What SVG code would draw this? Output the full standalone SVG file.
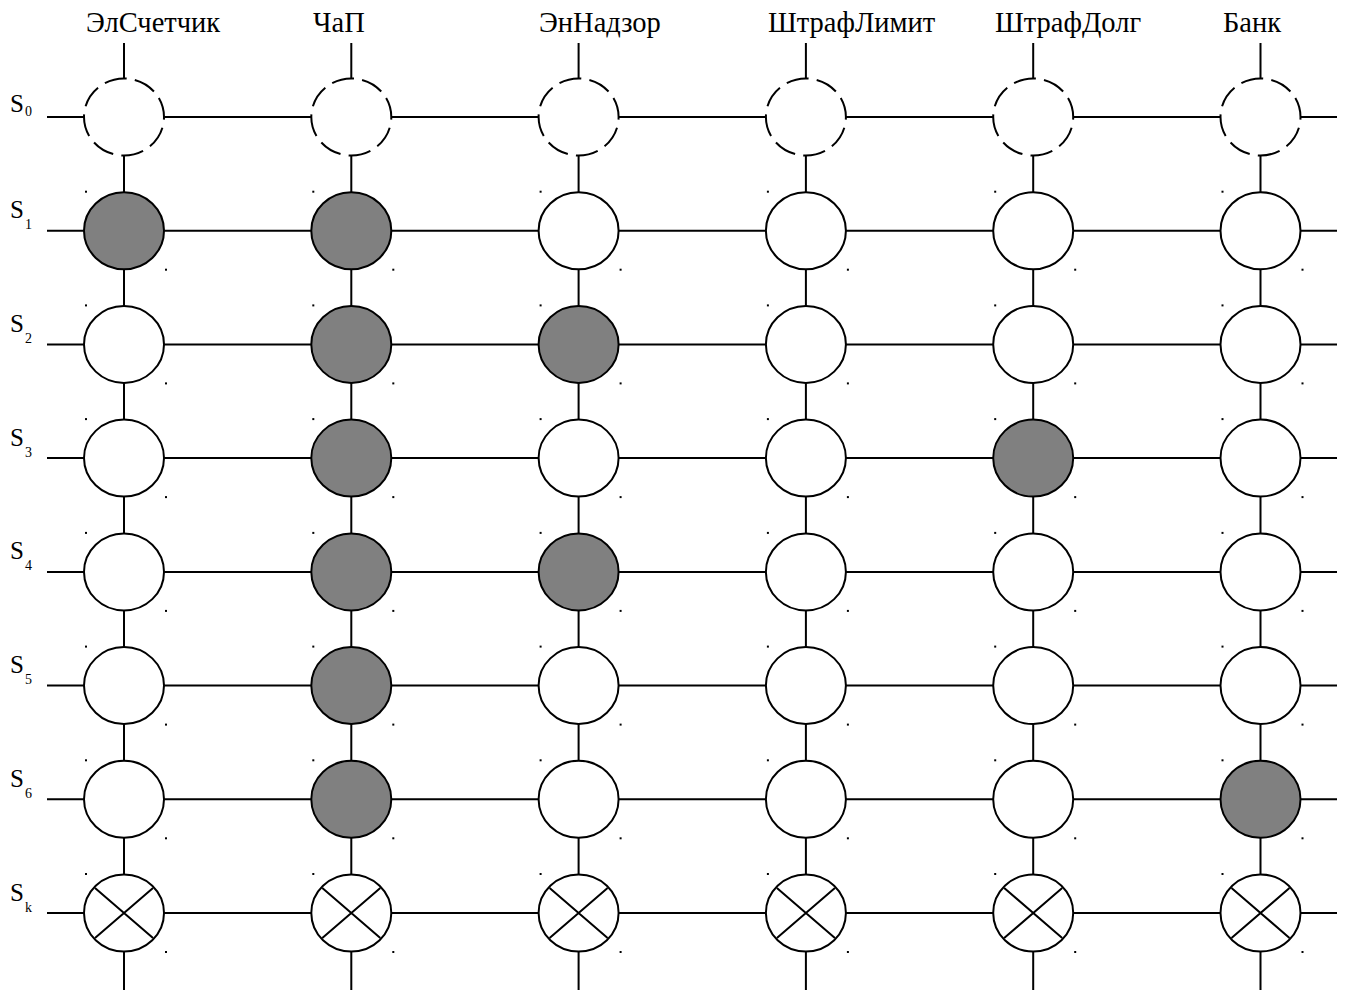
<svg xmlns="http://www.w3.org/2000/svg" width="1345" height="990" viewBox="0 0 1345 990">
<defs>
<style>
.ln{stroke:#000;stroke-width:2;fill:none}
.nd{stroke:#000;stroke-width:2;fill:#fff}
.gr{fill:#808080}
.ds{stroke-dasharray:33 12;stroke-dashoffset:29}
.hd{font-family:"Liberation Serif","Times New Roman",serif;font-size:28.5px;fill:#000}
.sl{font-family:"Liberation Serif","Times New Roman",serif;font-size:25px;fill:#000}
.sb{font-family:"Liberation Serif","Times New Roman",serif;font-size:14px;fill:#000}
.dot{fill:#000}
</style>
<g id="xnode"><ellipse class="nd" cx="0" cy="0" rx="40" ry="38.5"/><path class="ln" d="M-29,-25L29,25M-29,25L29,-25"/></g>
<g id="dots"><rect class="dot" x="-39" y="-40" width="2" height="2"/><rect class="dot" x="41" y="38" width="2" height="2"/></g>
</defs>
<rect width="1345" height="990" fill="#fff"/>
<g id="headers">
<text class="hd" x="86" y="32">ЭлСчетчик</text>
<text class="hd" x="313" y="32">ЧаП</text>
<text class="hd" x="539" y="32">ЭнНадзор</text>
<text class="hd" x="768" y="32">ШтрафЛимит</text>
<text class="hd" x="995" y="32">ШтрафДолг</text>
<text class="hd" x="1223" y="32">Банк</text>
</g>
<g id="row-labels">
<text class="sl" x="10" y="112">S<tspan class="sb" dx="1" dy="4">0</tspan></text>
<text class="sl" x="10" y="218">S<tspan class="sb" dx="1" dy="11">1</tspan></text>
<text class="sl" x="10" y="332">S<tspan class="sb" dx="1" dy="11">2</tspan></text>
<text class="sl" x="10" y="446">S<tspan class="sb" dx="1" dy="11">3</tspan></text>
<text class="sl" x="10" y="559">S<tspan class="sb" dx="1" dy="11">4</tspan></text>
<text class="sl" x="10" y="673">S<tspan class="sb" dx="1" dy="11">5</tspan></text>
<text class="sl" x="10" y="787">S<tspan class="sb" dx="1" dy="11">6</tspan></text>
<text class="sl" x="10" y="901">S<tspan class="sb" dx="1" dy="11">k</tspan></text>
</g>
<g id="connectors" class="ln">
<path d="M124,43V990M351.3,43V990M578.6,43V990M805.9,43V990M1033.2,43V990M1260.5,43V990"/>
<path d="M47,117H1337M47,230.7H1337M47,344.4H1337M47,458.1H1337M47,571.9H1337M47,685.6H1337M47,799.3H1337M47,913H1337"/>
</g>
<g id="row-s0">
<ellipse id="n0-0" class="nd ds" cx="124" cy="117" rx="40" ry="38.5" pathLength="360"/>
<ellipse id="n0-1" class="nd ds" cx="351.3" cy="117" rx="40" ry="38.5" pathLength="360"/>
<ellipse id="n0-2" class="nd ds" cx="578.6" cy="117" rx="40" ry="38.5" pathLength="360"/>
<ellipse id="n0-3" class="nd ds" cx="805.9" cy="117" rx="40" ry="38.5" pathLength="360"/>
<ellipse id="n0-4" class="nd ds" cx="1033.2" cy="117" rx="40" ry="38.5" pathLength="360"/>
<ellipse id="n0-5" class="nd ds" cx="1260.5" cy="117" rx="40" ry="38.5" pathLength="360"/>
</g>
<g id="row-s1">
<ellipse id="n1-0" class="nd gr" cx="124" cy="230.7" rx="40" ry="38.5"/>
<ellipse id="n1-1" class="nd gr" cx="351.3" cy="230.7" rx="40" ry="38.5"/>
<ellipse id="n1-2" class="nd" cx="578.6" cy="230.7" rx="40" ry="38.5"/>
<ellipse id="n1-3" class="nd" cx="805.9" cy="230.7" rx="40" ry="38.5"/>
<ellipse id="n1-4" class="nd" cx="1033.2" cy="230.7" rx="40" ry="38.5"/>
<ellipse id="n1-5" class="nd" cx="1260.5" cy="230.7" rx="40" ry="38.5"/>
</g>
<g id="row-s2">
<ellipse id="n2-0" class="nd" cx="124" cy="344.4" rx="40" ry="38.5"/>
<ellipse id="n2-1" class="nd gr" cx="351.3" cy="344.4" rx="40" ry="38.5"/>
<ellipse id="n2-2" class="nd gr" cx="578.6" cy="344.4" rx="40" ry="38.5"/>
<ellipse id="n2-3" class="nd" cx="805.9" cy="344.4" rx="40" ry="38.5"/>
<ellipse id="n2-4" class="nd" cx="1033.2" cy="344.4" rx="40" ry="38.5"/>
<ellipse id="n2-5" class="nd" cx="1260.5" cy="344.4" rx="40" ry="38.5"/>
</g>
<g id="row-s3">
<ellipse id="n3-0" class="nd" cx="124" cy="458.1" rx="40" ry="38.5"/>
<ellipse id="n3-1" class="nd gr" cx="351.3" cy="458.1" rx="40" ry="38.5"/>
<ellipse id="n3-2" class="nd" cx="578.6" cy="458.1" rx="40" ry="38.5"/>
<ellipse id="n3-3" class="nd" cx="805.9" cy="458.1" rx="40" ry="38.5"/>
<ellipse id="n3-4" class="nd gr" cx="1033.2" cy="458.1" rx="40" ry="38.5"/>
<ellipse id="n3-5" class="nd" cx="1260.5" cy="458.1" rx="40" ry="38.5"/>
</g>
<g id="row-s4">
<ellipse id="n4-0" class="nd" cx="124" cy="571.9" rx="40" ry="38.5"/>
<ellipse id="n4-1" class="nd gr" cx="351.3" cy="571.9" rx="40" ry="38.5"/>
<ellipse id="n4-2" class="nd gr" cx="578.6" cy="571.9" rx="40" ry="38.5"/>
<ellipse id="n4-3" class="nd" cx="805.9" cy="571.9" rx="40" ry="38.5"/>
<ellipse id="n4-4" class="nd" cx="1033.2" cy="571.9" rx="40" ry="38.5"/>
<ellipse id="n4-5" class="nd" cx="1260.5" cy="571.9" rx="40" ry="38.5"/>
</g>
<g id="row-s5">
<ellipse id="n5-0" class="nd" cx="124" cy="685.6" rx="40" ry="38.5"/>
<ellipse id="n5-1" class="nd gr" cx="351.3" cy="685.6" rx="40" ry="38.5"/>
<ellipse id="n5-2" class="nd" cx="578.6" cy="685.6" rx="40" ry="38.5"/>
<ellipse id="n5-3" class="nd" cx="805.9" cy="685.6" rx="40" ry="38.5"/>
<ellipse id="n5-4" class="nd" cx="1033.2" cy="685.6" rx="40" ry="38.5"/>
<ellipse id="n5-5" class="nd" cx="1260.5" cy="685.6" rx="40" ry="38.5"/>
</g>
<g id="row-s6">
<ellipse id="n6-0" class="nd" cx="124" cy="799.3" rx="40" ry="38.5"/>
<ellipse id="n6-1" class="nd gr" cx="351.3" cy="799.3" rx="40" ry="38.5"/>
<ellipse id="n6-2" class="nd" cx="578.6" cy="799.3" rx="40" ry="38.5"/>
<ellipse id="n6-3" class="nd" cx="805.9" cy="799.3" rx="40" ry="38.5"/>
<ellipse id="n6-4" class="nd" cx="1033.2" cy="799.3" rx="40" ry="38.5"/>
<ellipse id="n6-5" class="nd gr" cx="1260.5" cy="799.3" rx="40" ry="38.5"/>
</g>
<g id="row-sk">
<use id="nk-0" href="#xnode" x="124" y="913"/>
<use id="nk-1" href="#xnode" x="351.3" y="913"/>
<use id="nk-2" href="#xnode" x="578.6" y="913"/>
<use id="nk-3" href="#xnode" x="805.9" y="913"/>
<use id="nk-4" href="#xnode" x="1033.2" y="913"/>
<use id="nk-5" href="#xnode" x="1260.5" y="913"/>
</g>
<g id="corner-dots">
<use href="#dots" x="124" y="230.7"/><use href="#dots" x="351.3" y="230.7"/><use href="#dots" x="578.6" y="230.7"/><use href="#dots" x="805.9" y="230.7"/><use href="#dots" x="1033.2" y="230.7"/><use href="#dots" x="1260.5" y="230.7"/>
<use href="#dots" x="124" y="344.4"/><use href="#dots" x="351.3" y="344.4"/><use href="#dots" x="578.6" y="344.4"/><use href="#dots" x="805.9" y="344.4"/><use href="#dots" x="1033.2" y="344.4"/><use href="#dots" x="1260.5" y="344.4"/>
<use href="#dots" x="124" y="458.1"/><use href="#dots" x="351.3" y="458.1"/><use href="#dots" x="578.6" y="458.1"/><use href="#dots" x="805.9" y="458.1"/><use href="#dots" x="1033.2" y="458.1"/><use href="#dots" x="1260.5" y="458.1"/>
<use href="#dots" x="124" y="571.9"/><use href="#dots" x="351.3" y="571.9"/><use href="#dots" x="578.6" y="571.9"/><use href="#dots" x="805.9" y="571.9"/><use href="#dots" x="1033.2" y="571.9"/><use href="#dots" x="1260.5" y="571.9"/>
<use href="#dots" x="124" y="685.6"/><use href="#dots" x="351.3" y="685.6"/><use href="#dots" x="578.6" y="685.6"/><use href="#dots" x="805.9" y="685.6"/><use href="#dots" x="1033.2" y="685.6"/><use href="#dots" x="1260.5" y="685.6"/>
<use href="#dots" x="124" y="799.3"/><use href="#dots" x="351.3" y="799.3"/><use href="#dots" x="578.6" y="799.3"/><use href="#dots" x="805.9" y="799.3"/><use href="#dots" x="1033.2" y="799.3"/><use href="#dots" x="1260.5" y="799.3"/>
<use href="#dots" x="124" y="913"/><use href="#dots" x="351.3" y="913"/><use href="#dots" x="578.6" y="913"/><use href="#dots" x="805.9" y="913"/><use href="#dots" x="1033.2" y="913"/><use href="#dots" x="1260.5" y="913"/>
</g>
</svg>
